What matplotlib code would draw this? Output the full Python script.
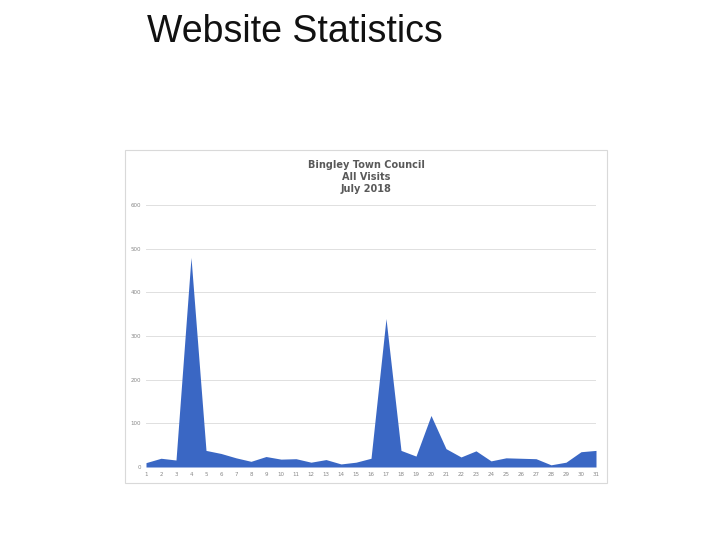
import matplotlib
matplotlib.use("Agg")
import matplotlib.pyplot as plt
from matplotlib.patches import Rectangle

days = list(range(1, 32))
visits = [10, 20, 16, 480, 38, 31, 21, 13, 24, 18, 19, 11, 17, 7, 11, 20,
          340, 38, 25, 118, 42, 23, 37, 14, 21, 20, 19, 5, 11, 35, 38]
yticks = [0, 100, 200, 300, 400, 500, 600]

W, H = 720, 540
fig = plt.figure(figsize=(7.2, 5.4), dpi=100)
fig.text(147 / W, 1 - 32 / H, "Website Statistics", fontsize=27, family="Liberation Sans",
         va="center", ha="left", color="#111111")

# chart frame
fig.patches.append(Rectangle((125 / W, 1 - 483 / H), 482 / W, 333 / H, transform=fig.transFigure,
                             facecolor="white", edgecolor="#d9d9d9", lw=0.8, zorder=0))
fig.text(366 / W, 1 - 177 / H, "Bingley Town Council\nAll Visits\nJuly 2018", ha="center", va="center",
         fontsize=7, fontweight="bold", color="#595959", linespacing=1.3)

ax = fig.add_axes([146 / W, 1 - 467 / H, 450 / W, 262 / H])
ax.set_zorder(3)
ax.patch.set_visible(False)
ax.fill_between(days, visits, 0, color="#3a67c4", lw=0)
ax.set_xlim(1, 31)
ax.set_ylim(0, 600)
ax.set_xticks(days)
ax.set_yticks(yticks)
ax.tick_params(labelsize=4, colors="#888888", length=0)
ax.grid(axis="y", color="#e0e0e0", lw=0.7)
ax.set_axisbelow(True)
for s in ax.spines.values():
    s.set_visible(False)

fig.savefig("out.png", dpi=100)
